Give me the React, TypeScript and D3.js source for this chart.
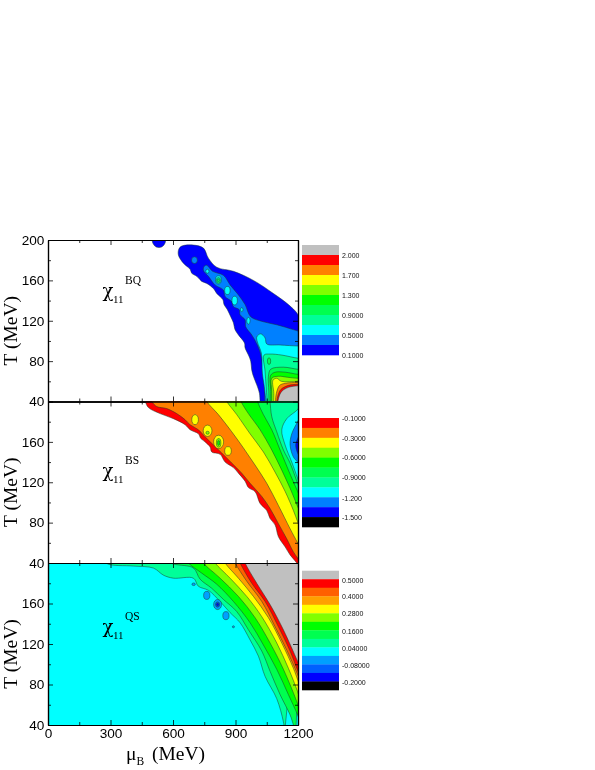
import React, { useEffect, useRef } from "react";
import * as d3 from "d3";

type Pt = number[];

const GRAY = "#c0c0c0";
const RED = "#ff0000";
const ORANGE = "#ff8000";
const YELLOW = "#ffff00";
const LIME = "#80ff00";
const GREEN = "#00ff00";
const SPRING = "#00ff50";
const MINT = "#00ff99";
const CYAN = "#00ffff";
const AZURE = "#0080ff";
const BLUE = "#0000ff";
const BLACK = "#000000";

const xTicks = [0, 300, 600, 900, 1200];
const xMinor = [150, 450, 750, 1050];
const yTicks = [40, 80, 120, 160, 200];
const yMinor = [60, 100, 140, 180];

// chi BQ contours, [mu_B, T]
const bqBlueTop = [[498, 205], [503, 197], [520, 193], [545, 193], [562, 197], [565, 205]];
const bqBlue = [[1018, 34], [1015, 48], [1002, 56.5], [986, 65], [978, 71], [973, 80], [962, 86], [946, 93], [943, 98], [914, 106], [898, 111], [890, 118], [877, 124], [861, 131], [845, 136], [839, 141], [810, 147], [794, 152], [762, 157], [738, 159], [714, 164], [690, 167], [682, 171], [650, 177], [626, 185], [628, 191], [642, 194], [698, 195], [746, 192], [770, 182], [810, 173], [890, 169], [986, 160], [1082, 147], [1154, 136], [1197, 127], [1215, 118]];
const bqAzure = [[1040, 34], [1040, 55], [1034, 68], [1026, 83], [1005, 96], [978, 106], [949, 114], [946, 121], [922, 126], [918, 131], [890, 134], [882, 139], [850, 144], [842, 150.5], [802, 155.5], [770, 164], [746, 170], [750, 174], [762, 175], [790, 169], [842, 165], [874, 155.5], [914, 145.6], [946, 136], [973, 124], [1034, 119], [1098, 116], [1197, 110], [1215, 109]];
const bqCyan = [[1050, 34], [1038, 55], [1029, 68], [1024, 88], [1005, 99], [1002, 104], [1021, 107], [1042, 103], [1050, 97], [1114, 96], [1197, 95], [1215, 95]];
const bqMint = [[1054, 34], [1047, 55], [1042, 70], [1037, 86], [1066, 87], [1122, 86], [1197, 83], [1215, 83]];
const bqSpring = [[1061, 34], [1060, 50], [1058, 65], [1069, 72], [1130, 74], [1197, 72], [1215, 72]];
const bqGreen = [[1069, 34], [1069, 50], [1069, 66], [1090, 69], [1140, 69], [1197, 67], [1215, 67]];
const bqLime = [[1074, 34], [1074, 50], [1074, 63], [1106, 65], [1150, 64], [1197, 63], [1215, 63]];
const bqYellow = [[1082, 34], [1084, 48], [1080, 61], [1098, 63], [1120, 60], [1197, 60], [1215, 60]];
const bqOrange = [[1090, 34], [1096, 48], [1112, 56], [1138, 58], [1197, 59], [1215, 59]];
const bqRed = [[1094, 34], [1104, 46], [1118, 52], [1154, 56], [1197, 57], [1215, 57]];
const bqGray = [[1098, 34], [1108, 44], [1122, 50], [1154, 54], [1197, 55.5], [1215, 55.5]];

// [mu_B, T, half width, half height, fill]
const bqIslands = [
  [703, 180, 14, 3.3, AZURE],
  [765, 169, 8, 2, CYAN],
  [818, 160.5, 14, 4, CYAN],
  [818, 160, 10, 2.8, MINT],
  [818, 160, 5, 1.4, SPRING],
  [861, 150, 13, 4, CYAN],
  [896, 140, 13, 4.3, CYAN],
  [930, 131, 6, 2, CYAN],
  [962, 120, 8, 3.3, CYAN],
  [1061, 80, 8, 3.3, SPRING],
];

// chi BS contours
const bsRed = [[450, 206], [466, 200], [482, 194], [538, 188], [602, 183], [658, 177], [682, 172], [722, 168], [733, 163.5], [754, 160], [778, 155], [786, 150], [826, 147.7], [850, 140], [890, 134.5], [914, 129], [946, 121], [962, 114.7], [994, 110.7], [1018, 99], [1050, 92], [1066, 84], [1090, 77.7], [1106, 66], [1138, 56], [1162, 48], [1194, 40], [1215, 33]];
const bsOrange = [[485, 206], [498, 200], [522, 195], [570, 193], [618, 188], [658, 182], [682, 177], [722, 172], [754, 165], [794, 157], [834, 149], [882, 139], [930, 129], [970, 119], [1026, 106], [1066, 94], [1106, 79], [1146, 64], [1178, 51], [1198, 45], [1215, 40]];
const bsYellow = [[750, 206], [762, 200], [818, 187], [882, 170], [938, 154], [994, 137], [1050, 119], [1106, 97], [1162, 74], [1198, 60], [1215, 53]];
const bsLime = [[845, 206], [858, 200], [906, 187], [970, 168], [1034, 150], [1090, 130], [1138, 111], [1178, 92], [1198, 81], [1215, 72]];
const bsGreen = [[915, 206], [926, 200], [962, 188], [1018, 172], [1074, 152], [1122, 132], [1162, 114], [1198, 96], [1215, 88]];
const bsSpring = [[1000, 206], [1006, 200], [1034, 187], [1074, 172], [1114, 152], [1154, 132], [1198, 111], [1215, 103]];
const bsMint = [[1064, 206], [1066, 200], [1074, 185], [1098, 170], [1130, 152], [1162, 139], [1198, 119], [1215, 110]];
const bsCyan = [[1215, 198], [1198, 192], [1146, 183], [1122, 172], [1138, 157], [1170, 140], [1198, 124], [1215, 114]];
const bsAzure = [[1215, 187], [1198, 180], [1170, 168], [1162, 157], [1178, 145], [1198, 140], [1215, 134]];
const bsBlue = [[1215, 170], [1198, 163], [1189, 157], [1198, 149], [1215, 143]];

const bsIslands = [
  [706, 182, 16, 5, YELLOW],
  [766, 171, 21, 5.6, YELLOW],
  [819, 160, 24, 6.6, YELLOW],
  [864, 151, 16, 4.3, YELLOW],
  [766, 169, 8, 1.5, LIME],
  [819, 159, 11, 4.3, LIME],
  [819, 159, 5, 2.6, GREEN],
];

// chi QS contours
const qsMint = [[260, 206], [282, 199.5], [410, 197], [506, 195], [554, 188], [602, 185], [698, 185], [722, 177], [770, 173], [826, 162], [874, 151], [922, 141], [970, 124], [1010, 108], [1042, 88], [1098, 66], [1130, 43], [1136, 33]];
const qsSpring = [[500, 206], [602, 199], [698, 195], [730, 184], [786, 175], [842, 164], [906, 152], [962, 134], [1026, 113], [1066, 93], [1114, 70], [1162, 50], [1178, 40], [1190, 33]];
const qsGreen = [[655, 206], [674, 200], [738, 190], [810, 179], [890, 162], [970, 141], [1034, 119], [1098, 95], [1154, 70], [1198, 50], [1215, 40]];
const qsLime = [[730, 206], [746, 200], [826, 185], [914, 167], [994, 146], [1066, 121], [1130, 95], [1198, 61], [1215, 50]];
const qsYellow = [[785, 206], [802, 200], [874, 185], [954, 167], [1026, 147], [1098, 121], [1154, 96], [1198, 73], [1215, 62]];
const qsOrange = [[835, 206], [850, 200], [914, 185], [986, 167], [1058, 146], [1122, 121], [1178, 96], [1198, 85], [1215, 76]];
const qsDeepOrange = [[885, 206], [898, 200], [954, 182], [1026, 162], [1090, 137], [1146, 114], [1198, 90], [1215, 81]];
const qsRed = [[910, 206], [922, 200], [978, 180], [1042, 162], [1106, 137], [1162, 113], [1198, 94], [1215, 86]];
const qsGray = [[935, 206], [946, 200], [1002, 180], [1066, 159], [1130, 134], [1198, 103], [1215, 95]];

const qsIslands = [
  [699, 179, 8, 1.3, "#00a0ff"],
  [762, 168, 15, 4, "#00a0ff"],
  [814, 159, 19, 5, "#00a0ff"],
  [854, 148, 15, 4, "#00a0ff"],
  [890, 137, 5, 1, "#00a0ff"],
  [814, 159, 10, 2.6, "#0060ff"],
  [814, 159, 5, 1.3, BLUE],
];

const bqColors = [GRAY, RED, ORANGE, YELLOW, LIME, GREEN, SPRING, MINT, CYAN, AZURE, BLUE];
const bsColors = [RED, ORANGE, YELLOW, LIME, GREEN, SPRING, MINT, CYAN, AZURE, BLUE, BLACK];
const qsColors = [GRAY, RED, "#ff6000", "#ffa000", YELLOW, LIME, GREEN, SPRING, MINT, CYAN, "#00a0ff", "#0060ff", BLUE, BLACK];

const bqLabels = ["2.000", "1.700", "1.300", "0.9000", "0.5000", "0.1000"];
const bsLabels = ["-0.1000", "-0.3000", "-0.6000", "-0.9000", "-1.200", "-1.500"];
const qsLabels = ["0.5000", "0.4000", "0.2800", "0.1600", "0.04000", "-0.08000", "-0.2000"];

const LOW_RIGHT = [1220, 30];
const TOP_RIGHT = [1220, 206];

const panels = [
  {
    top: 240, bottom: 401.5, sup: "BQ", base: null, islands: bqIslands, chiY: 297,
    layers: [
      [bqBlueTop, [[498, 206]], BLUE], [bqBlue, [LOW_RIGHT], BLUE], [bqAzure, [LOW_RIGHT], AZURE], [bqCyan, [LOW_RIGHT], CYAN],
      [bqMint, [LOW_RIGHT], MINT], [bqSpring, [LOW_RIGHT], SPRING], [bqGreen, [LOW_RIGHT], GREEN], [bqLime, [LOW_RIGHT], LIME],
      [bqYellow, [LOW_RIGHT], YELLOW], [bqOrange, [LOW_RIGHT], ORANGE], [bqRed, [LOW_RIGHT], RED], [bqGray, [LOW_RIGHT], GRAY],
    ],
    labels: bqLabels, colors: bqColors, legendTop: 245, legendBottom: 355, labelYs: [255.7, 275, 295, 315, 335, 355],
    yLabels: [200, 160, 120, 80, 40],
  },
  {
    top: 401.5, bottom: 563, sup: "BS", base: null, islands: bsIslands, chiY: 477,
    layers: [
      [bsRed, [TOP_RIGHT], RED], [bsOrange, [TOP_RIGHT], ORANGE], [bsYellow, [TOP_RIGHT], YELLOW], [bsLime, [TOP_RIGHT], LIME],
      [bsGreen, [TOP_RIGHT], GREEN], [bsSpring, [TOP_RIGHT], SPRING], [bsMint, [TOP_RIGHT], MINT], [bsCyan, [[1220, 120]], CYAN],
      [bsAzure, [[1220, 140]], AZURE], [bsBlue, [[1220, 150]], BLUE],
    ],
    labels: bsLabels, colors: bsColors, legendTop: 418, legendBottom: 527, labelYs: [418.3, 438.3, 457.7, 477.7, 498, 517.3],
    yLabels: [160, 120, 80, 40],
  },
  {
    top: 563, bottom: 725, sup: "QS", base: CYAN, islands: qsIslands, chiY: 633,
    layers: [
      [qsMint, [TOP_RIGHT], MINT], [qsSpring, [TOP_RIGHT], SPRING], [qsGreen, [TOP_RIGHT], GREEN], [qsLime, [TOP_RIGHT], LIME],
      [qsYellow, [TOP_RIGHT], YELLOW], [qsOrange, [TOP_RIGHT], "#ffa000"], [qsDeepOrange, [TOP_RIGHT], "#ff6000"], [qsRed, [TOP_RIGHT], RED], [qsGray, [TOP_RIGHT], GRAY],
    ],
    labels: qsLabels, colors: qsColors, legendTop: 570.7, legendBottom: 690, labelYs: [580, 596.7, 613.7, 631, 648.3, 665.3, 682],
    yLabels: [160, 120, 80, 40],
  },
];

const SANS = "'Liberation Sans', Arial, sans-serif";
const SERIF = "'Liberation Serif', 'Times New Roman', serif";

export default function App() {
  const svgRef = useRef<SVGSVGElement>(null);

  useEffect(() => {
    const svg = d3.select(svgRef.current);
    svg.selectAll("*").remove();

    const x = d3.scaleLinear().domain([0, 1200]).range([48, 298]);
    const defs = svg.append("defs");

    panels.forEach((p, i) => {
      const y = d3.scaleLinear().domain([40, 200]).range([p.bottom, p.top]);
      const g = svg.append("g");
      const clipId = `plot-${i}`;
      defs.append("clipPath").attr("id", clipId).append("rect")
        .attr("x", 48).attr("y", p.top).attr("width", 250).attr("height", p.bottom - p.top);

      const curve = d3.line<Pt>().x((d) => x(d[0])).y((d) => y(d[1])).curve(d3.curveCatmullRom.alpha(0.5));
      const plot = g.append("g").attr("clip-path", `url(#${clipId})`);

      if (p.base) {
        plot.append("rect").attr("x", 48).attr("y", p.top).attr("width", 250)
          .attr("height", p.bottom - p.top).attr("fill", p.base);
      }

      p.layers.forEach(([points, closing, color]: any) => {
        const tail = closing.map((c: Pt) => `L${x(c[0])},${y(c[1])}`).join("");
        plot.append("path")
          .attr("d", `${curve(points)}${tail}Z`)
          .attr("fill", color)
          .attr("stroke", "#1a3a2a")
          .attr("stroke-width", 0.5);
      });

      p.islands.forEach((d: any) => {
        plot.append("ellipse")
          .attr("cx", x(d[0])).attr("cy", y(d[1]))
          .attr("rx", x(d[2]) - x(0)).attr("ry", y(0) - y(d[3]))
          .attr("fill", d[4])
          .attr("stroke", "#1a3a2a")
          .attr("stroke-width", 0.5);
      });

      // frame and ticks on all four sides
      const addAxis = (axis: any, tx: number, ty: number) => {
        const a = g.append("g").attr("transform", `translate(${tx},${ty})`).call(axis);
        a.selectAll("path").attr("stroke", "#000").attr("stroke-width", 1.2);
        a.selectAll("line").attr("stroke", "#000").attr("stroke-width", 0.8);
        return a;
      };
      const isLast = i === panels.length - 1;

      addAxis(d3.axisBottom(x).tickValues(xTicks).tickSize(-5).tickSizeOuter(0).tickFormat(() => ""), 0, p.bottom);
      addAxis(d3.axisBottom(x).tickValues(xMinor).tickSize(-3).tickSizeOuter(0).tickFormat(() => ""), 0, p.bottom);
      addAxis(d3.axisTop(x).tickValues(xTicks).tickSize(-5).tickSizeOuter(0).tickFormat(() => ""), 0, p.top);
      addAxis(d3.axisTop(x).tickValues(xMinor).tickSize(-3).tickSizeOuter(0).tickFormat(() => ""), 0, p.top);
      addAxis(d3.axisRight(y).tickValues(yTicks).tickSize(-5).tickSizeOuter(0).tickFormat(() => ""), 298, 0);
      addAxis(d3.axisRight(y).tickValues(yMinor).tickSize(-3).tickSizeOuter(0).tickFormat(() => ""), 298, 0);
      addAxis(d3.axisLeft(y).tickValues(yMinor).tickSize(-3).tickSizeOuter(0).tickFormat(() => ""), 48, 0);

      const left = addAxis(d3.axisLeft(y).tickValues(yTicks).tickSize(-5).tickSizeOuter(0).tickPadding(3.7)
        .tickFormat((d: any) => (p.yLabels.includes(d) ? String(d) : "")), 48, 0);
      left.selectAll("text").attr("font-family", SANS).attr("font-size", 13.6).attr("fill", "#000");

      if (isLast) {
        const bottom = addAxis(d3.axisBottom(x).tickValues(xTicks).tickSize(0).tickPadding(3.5).tickFormat(d3.format("d")), 0, p.bottom);
        bottom.selectAll("text").attr("font-family", SANS).attr("font-size", 13.6).attr("fill", "#000");
      }

      // y title
      g.append("text")
        .attr("transform", `translate(17,${(p.top + p.bottom) / 2 + 10}) rotate(-90)`)
        .attr("text-anchor", "middle")
        .attr("font-family", SERIF).attr("font-size", 19.5)
        .text("T (MeV)");

      // chi label
      g.append("text").attr("x", 102.5).attr("y", p.chiY).attr("font-family", "'DejaVu Serif', serif").attr("font-size", 18).text("\u03c7");
      g.append("text").attr("x", 113).attr("y", p.chiY + 6).attr("font-family", SERIF).attr("font-size", 11).text("11");
      g.append("text").attr("x", 125).attr("y", p.chiY - 13).attr("font-family", SERIF).attr("font-size", 11.5).text(p.sup);

      // legend
      const band = d3.scaleBand<number>().domain(d3.range(p.colors.length)).range([p.legendTop, p.legendBottom]);
      g.append("g").selectAll("rect").data(p.colors).join("rect")
        .attr("x", 302).attr("width", 37)
        .attr("y", (_d, k) => band(k)!)
        .attr("height", band.bandwidth() + 0.3)
        .attr("fill", (d) => d);
      g.append("g").selectAll("text").data(p.labels).join("text")
        .attr("x", 342)
        .attr("y", (_d, k) => p.labelYs[k] + 2.5)
        .attr("font-family", SANS).attr("font-size", 7)
        .attr("fill", "#111")
        .text((d) => d);
    });

    // x title
    const xt = svg.append("text").attr("x", 126).attr("y", 760).attr("font-family", SERIF).attr("font-size", 19.5);
    xt.append("tspan").text("\u03bc");
    xt.append("tspan").attr("font-size", 11.5).attr("dy", 5).text("B");
    xt.append("tspan").attr("dy", -5).attr("dx", 3).text(" (MeV)");
  }, []);

  return (
    <svg
      ref={svgRef}
      width={595}
      height={770}
      style={{ position: "absolute", left: 0, top: 0, background: "#fff", filter: "blur(0.35px)" }}
    />
  );
}
